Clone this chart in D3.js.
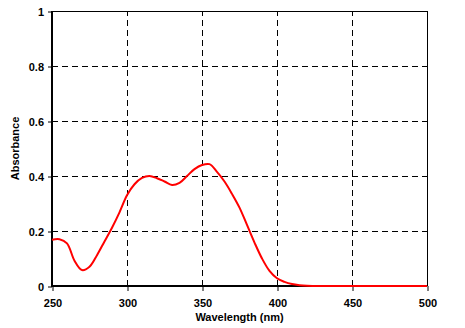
<!DOCTYPE html>
<html>
<head>
<meta charset="UTF-8">
<script src="https://cdnjs.cloudflare.com/ajax/libs/d3/7.8.5/d3.min.js"></script>
<style>
  body { margin: 0; background: #fff; }
  text { font-family: "Liberation Sans", Arial, sans-serif; font-weight: bold; }
</style>
</head>
<body>
<div id="chart"></div>
<script>
// spectrum
const wavelength = [250, 255, 260, 265, 270, 275, 280, 285, 290, 295, 300, 305, 310, 315, 320, 325,
  330, 335, 340, 345, 350, 355, 360, 365, 370, 375, 380, 385, 390, 395, 400, 405, 410, 415, 420,
  430, 440, 450, 460, 470, 480, 490, 500];
const absorbance = [0.168, 0.170, 0.155, 0.092, 0.058, 0.070, 0.112, 0.162, 0.212, 0.268, 0.330, 0.370,
  0.393, 0.400, 0.392, 0.380, 0.367, 0.375, 0.400, 0.425, 0.440, 0.443, 0.415, 0.380, 0.335, 0.285,
  0.222, 0.158, 0.100, 0.055, 0.028, 0.015, 0.007, 0.003, 0.001, 0, 0, 0, 0, 0, 0, 0, 0];
const xTicks = [250, 300, 350, 400, 450, 500];
const yTicks = [0, 0.2, 0.4, 0.6, 0.8, 1];

const width = 465, height = 328;
const margin = {top: 11, right: 38, bottom: 42, left: 52};

const svg = d3.select('#chart').append('svg')
  .attr('width', width).attr('height', height);

const x = d3.scaleLinear().domain([250, 500]).range([margin.left, width - margin.right]);
const y = d3.scaleLinear().domain([0, 1]).range([height - margin.bottom, margin.top]);

// grid
svg.append('g').selectAll('line').data(xTicks.slice(1, -1)).enter().append('line')
  .attr('x1', d => x(d) + 0.5).attr('x2', d => x(d) + 0.5)
  .attr('y1', y(0)).attr('y2', y(1))
  .attr('stroke', '#000').attr('stroke-dasharray', '6,4');
svg.append('g').selectAll('line').data(yTicks.slice(1, -1)).enter().append('line')
  .attr('y1', d => Math.round(y(d)) + 0.5).attr('y2', d => Math.round(y(d)) + 0.5)
  .attr('x1', x(250)).attr('x2', x(500))
  .attr('stroke', '#000').attr('stroke-dasharray', '6,4');

// frame: top and right
svg.append('line').attr('x1', x(250)).attr('x2', x(500)).attr('y1', y(1) + 0.5).attr('y2', y(1) + 0.5)
  .attr('stroke', '#000').attr('stroke-width', 1);
svg.append('line').attr('x1', x(500) + 0.5).attr('x2', x(500) + 0.5).attr('y1', y(0)).attr('y2', y(1))
  .attr('stroke', '#000').attr('stroke-width', 1);

// axes
const xAxis = svg.append('g')
  .attr('transform', `translate(0.5,${y(0)})`)
  .call(d3.axisBottom(x).tickValues(xTicks).tickSize(5).tickPadding(8).tickFormat(d3.format('d')));
const yAxis = svg.append('g')
  .attr('transform', `translate(${x(250)},0.5)`)
  .call(d3.axisLeft(y).tickValues(yTicks).tickSize(4).tickPadding(4).tickFormat(d => d));
[xAxis, yAxis].forEach(a => {
  a.select('.domain').remove();
  a.selectAll('text').style('font-size', '11px').attr('fill', '#000');
  a.selectAll('.tick line').attr('stroke', '#000');
});
svg.append('line').attr('x1', x(250)).attr('x2', x(500)).attr('y1', y(0)).attr('y2', y(0))
  .attr('stroke', '#000').attr('stroke-width', 2);
svg.append('line').attr('x1', x(250)).attr('x2', x(250)).attr('y1', y(0) + 1).attr('y2', y(1))
  .attr('stroke', '#000').attr('stroke-width', 2);

// curve
const pts = wavelength.map((w, i) => [w, absorbance[i]]);
svg.append('path').datum(pts)
  .attr('fill', 'none').attr('stroke', '#ff0000').attr('stroke-width', 2)
  .attr('d', d3.line().x(d => x(d[0])).y(d => y(d[1])).curve(d3.curveCatmullRom.alpha(0.5)));

// titles
svg.append('text').attr('x', (x(250) + x(500)) / 2).attr('y', 321)
  .attr('text-anchor', 'middle').style('font-size', '11px').text('Wavelength (nm)');
svg.append('text').attr('transform', `translate(19,${(y(0) + y(1)) / 2}) rotate(-90)`)
  .attr('text-anchor', 'middle').style('font-size', '11px').text('Absorbance');
</script>
</body>
</html>
